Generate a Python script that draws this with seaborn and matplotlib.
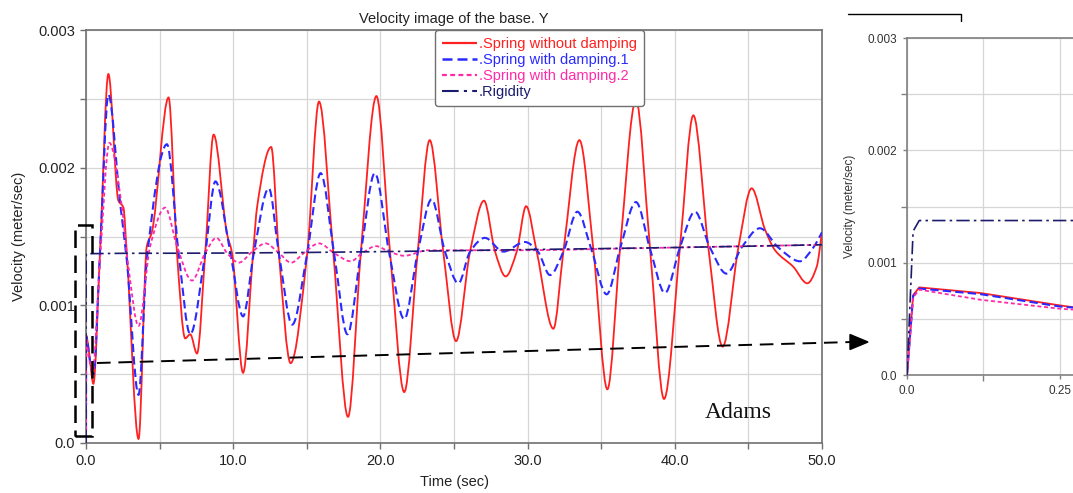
import numpy as np
import matplotlib
matplotlib.use("Agg")
import matplotlib.pyplot as plt
import seaborn as sns
from matplotlib.path import Path
from matplotlib.patches import PathPatch, Rectangle, Polygon
from matplotlib.lines import Line2D
from matplotlib.ticker import MultipleLocator, FuncFormatter

# ---------------------------------------------------------------------------
# Base velocity (Y) over time, m/s
# ---------------------------------------------------------------------------
t_free = [0, 0.01, 0.02, 0.12, 0.25, 0.50, 0.95, 1.52, 2.20, 2.54, 2.77, 3.57,
          4.13, 4.47, 5.61, 6.18, 6.74, 7.08, 7.54, 8.10, 8.67, 9.58, 9.92,
          10.67, 11.35, 11.63, 12.58, 13.10, 13.90, 15.03, 15.83, 16.80, 17.80,
          18.67, 19.73, 20.66, 21.62, 22.53, 23.35, 24.27, 25.14, 26.09, 27.04,
          27.79, 28.51, 29.26, 29.90, 30.62, 31.75, 32.43, 33.52, 34.47, 35.42,
          36.28, 37.36, 38.32, 39.27, 40.35, 41.26, 42.28, 43.25, 44.32, 45.22,
          46.13, 46.81, 48.05, 49.00, 49.64, 50.0]
v_free = [0, 0.00071, 0.00078, 0.00073, 0.00062, 0.00043, 0.00138, 0.00268,
          0.00176, 0.00171, 0.00138, 0.00003, 0.00143, 0.00153, 0.00251,
          0.00138, 0.00076, 0.00079, 0.00065, 0.00138, 0.00224, 0.00152,
          0.00138, 0.00051, 0.00138, 0.00172, 0.00215, 0.00138, 0.00058,
          0.00138, 0.00248, 0.00138, 0.00019, 0.00138, 0.00252, 0.00138,
          0.00037, 0.00138, 0.00220, 0.00139, 0.00074, 0.00139, 0.00176,
          0.00139, 0.00121, 0.00139, 0.00172, 0.00139, 0.00083, 0.00139,
          0.00220, 0.00140, 0.00039, 0.00141, 0.00249, 0.00141, 0.00032,
          0.00142, 0.00238, 0.00142, 0.00070, 0.00142, 0.00185, 0.00155,
          0.00140, 0.00128, 0.00116, 0.00128, 0.00153]

t_damp1 = [0, 0.01, 0.02, 0.12, 0.25, 0.50, 0.95, 1.52, 2.32, 2.77, 3.57, 4.13,
           5.50, 6.29, 7.08, 8.10, 8.79, 9.81, 10.67, 11.40, 12.42, 13.10,
           14.01, 15.03, 15.94, 16.85, 17.76, 18.67, 19.62, 20.60, 21.62, 22.53,
           23.48, 24.39, 25.30, 26.09, 27.10, 28.35, 29.82, 30.70, 31.52, 32.43,
           33.38, 34.35, 35.37, 36.28, 37.36, 38.32, 39.33, 40.35, 41.37, 42.39,
           43.52, 44.54, 45.78, 47.03, 48.50, 49.41, 50.0]
v_damp1 = [0, 0.00070, 0.00077, 0.00072, 0.00061, 0.00050, 0.00138, 0.00253,
           0.00174, 0.00133, 0.00035, 0.00133, 0.00217, 0.00138, 0.00079,
           0.00138, 0.00190, 0.00138, 0.00092, 0.00138, 0.00185, 0.00138,
           0.00086, 0.00138, 0.00196, 0.00138, 0.00079, 0.00138, 0.00196,
           0.00138, 0.00090, 0.00138, 0.00177, 0.00139, 0.00116, 0.00139,
           0.00149, 0.00139, 0.00146, 0.00139, 0.00122, 0.00139, 0.00168,
           0.00140, 0.00108, 0.00141, 0.00175, 0.00141, 0.00109, 0.00142,
           0.00168, 0.00142, 0.00123, 0.00142, 0.00156, 0.00142, 0.00132,
           0.00142, 0.00153]

t_damp2 = [0, 0.01, 0.02, 0.12, 0.25, 0.45, 0.95, 1.59, 2.43, 2.88, 3.57, 4.36,
           5.38, 6.18, 7.20, 8.10, 8.86, 9.58, 10.38, 11.30, 12.20, 13.10,
           13.94, 14.80, 15.83, 16.85, 17.98, 18.78, 19.69, 20.60, 21.62, 23.20,
           25.0, 30.0, 35.0, 40.0, 45.0, 50.0]
v_damp2 = [0, 0.00069, 0.00076, 0.00067, 0.00059, 0.00052, 0.00133, 0.00218,
           0.00172, 0.00128, 0.00085, 0.00143, 0.00171, 0.00143, 0.00118,
           0.00138, 0.00149, 0.00138, 0.00131, 0.00139, 0.00145, 0.00138,
           0.00131, 0.00138, 0.00145, 0.00138, 0.00132, 0.00138, 0.00143,
           0.00139, 0.00136, 0.00140, 0.00140, 0.00140, 0.00141, 0.00142,
           0.00143, 0.00144]

t_rigid = [0, 0.01, 0.02, 10.0, 20.0, 30.0, 40.0, 50.0]
v_rigid = [0, 0.00128, 0.001375, 0.00138, 0.00139, 0.001405, 0.00142, 0.00144]

labels = [".Spring without damping", ".Spring with damping.1",
          ".Spring with damping.2", ".Rigidity"]

colors = ["#ff2020", "#2a2aff", "#ff2aa8", "#1c1c6e"]
styles = [(0, ()), (0, (4, 2)), (0, (2.2, 1.5)), (0, (8, 2.5, 1.5, 2.5))]
widths = [1.3, 1.5, 1.3, 1.2]

series = [(t_free, v_free), (t_damp1, v_damp1), (t_damp2, v_damp2),
          (t_rigid, v_rigid)]

# ---------------------------------------------------------------------------
sns.set_theme(style="whitegrid")
plt.rcParams["font.family"] = ["Liberation Sans", "DejaVu Sans"]

W, H = 1073, 493
fig = plt.figure(figsize=(W / 100, H / 100), dpi=100)


def fx(px):
    return px / W


def fy(py):
    return 1 - py / H


def smooth_path(x, y):
    """Cubic Hermite (monotone) curve through the given points as a Bezier path."""
    x = np.asarray(x, float)
    y = np.asarray(y, float)
    h = np.diff(x)
    delta = np.diff(y) / h
    d = np.zeros_like(y)
    d[0], d[-1] = delta[0], delta[-1]
    for i in range(1, len(x) - 1):
        if delta[i - 1] * delta[i] <= 0:
            d[i] = 0.0
        else:
            w1 = 2 * h[i] + h[i - 1]
            w2 = h[i] + 2 * h[i - 1]
            d[i] = (w1 + w2) / (w1 / delta[i - 1] + w2 / delta[i])
    verts = [(x[0], y[0])]
    codes = [Path.MOVETO]
    for i in range(len(x) - 1):
        verts.append((x[i] + h[i] / 3, y[i] + d[i] * h[i] / 3))
        verts.append((x[i + 1] - h[i] / 3, y[i + 1] - d[i + 1] * h[i] / 3))
        verts.append((x[i + 1], y[i + 1]))
        codes += [Path.CURVE4] * 3
    return Path(verts, codes)


def style_axes(ax, spine_color="#707070"):
    for s in ax.spines.values():
        s.set_visible(True)
        s.set_color(spine_color)
        s.set_linewidth(1.2)
    ax.grid(True, which="both", color="#d6d6d6", linewidth=0.9)
    ax.set_axisbelow(True)
    ax.tick_params(which="both", direction="out", length=4, width=1,
                   color=spine_color, bottom=True, left=True)


# ---------------------------- main plot ------------------------------------
ax = fig.add_axes([fx(86), fy(443), (822 - 86) / W, (443 - 30) / H])
for (t, v), c, ls, lw in zip(series, colors, styles, widths):
    ax.add_patch(PathPatch(smooth_path(t, v), fill=False, edgecolor=c,
                           linestyle=ls, linewidth=lw, zorder=3))
ax.set_xlim(0, 50)
ax.set_ylim(0, 0.003)
style_axes(ax)
ax.xaxis.set_major_locator(MultipleLocator(10))
ax.xaxis.set_minor_locator(MultipleLocator(5))
ax.yaxis.set_major_locator(MultipleLocator(0.001))
ax.yaxis.set_minor_locator(MultipleLocator(0.0005))
ax.xaxis.set_major_formatter(FuncFormatter(lambda v, p: f"{v:.1f}"))
ax.yaxis.set_major_formatter(
    FuncFormatter(lambda v, p: "0.0" if abs(v) < 1e-12 else f"{v:.3f}"))
ax.tick_params(labelsize=10.5, labelcolor="#222222", pad=4)
ax.set_title("Velocity image of the base. Y", fontsize=10.5, pad=5,
             color="#222222")
ax.set_xlabel("Time (sec)", fontsize=10.5, labelpad=5, color="#222222")
ax.set_ylabel("Velocity (meter/sec)", fontsize=10.5, labelpad=9,
              color="#222222")

handles = [Line2D([], [], color=c, linestyle=ls, linewidth=lw + 0.3)
           for c, ls, lw in zip(colors, styles, widths)]
leg = ax.legend(handles, labels, loc="upper left",
                bbox_to_anchor=(fx(435), fy(30)), bbox_transform=fig.transFigure,
                borderaxespad=0, frameon=True, fancybox=True, framealpha=1,
                edgecolor="#707070", fontsize=10.5, handlelength=2.4,
                handletextpad=0.1, labelspacing=0.13, borderpad=0.5)
leg.get_frame().set_linewidth(1.0)
for txt, c in zip(leg.get_texts(), colors):
    txt.set_color(c)

ax.text(50 * (738 - 86) / 736, 0.000225, "Adams", ha="center", va="center",
        fontsize=17, family="Liberation Serif", color="#111111")

# ---------------------------- zoomed inset ---------------------------------
inset_w = 1080 - 907
ax2 = fig.add_axes([fx(907), fy(375), inset_w / W, (375 - 38) / H])
for (t, v), c, ls, lw in zip(series, colors, styles, widths):
    sns.lineplot(x=t, y=v, ax=ax2, color=c, linestyle=ls, linewidth=lw,
                 estimator=None, sort=False, legend=False, zorder=3)
ax2.set_xlim(0, inset_w / 610.7)
ax2.set_ylim(0, 0.003)
style_axes(ax2, "#808080")
ax2.xaxis.set_major_locator(MultipleLocator(0.25))
ax2.xaxis.set_minor_locator(MultipleLocator(0.125))
ax2.yaxis.set_major_locator(MultipleLocator(0.001))
ax2.yaxis.set_minor_locator(MultipleLocator(0.0005))
ax2.xaxis.set_major_formatter(
    FuncFormatter(lambda v, p: "0.0" if abs(v) < 1e-12 else f"{v:g}"))
ax2.yaxis.set_major_formatter(
    FuncFormatter(lambda v, p: "0.0" if abs(v) < 1e-12 else f"{v:.3f}"))
ax2.tick_params(labelsize=8.5, labelcolor="#333333", pad=4, length=3)
ax2.set_ylabel("Velocity (meter/sec)", fontsize=8.5, labelpad=8,
               color="#333333")
ax2.set_xlabel("")

# ---------------------------- annotations ----------------------------------
fig.add_artist(Rectangle((fx(75), fy(436)), (92 - 75) / W, (436 - 225) / H,
                         fill=False, edgecolor="black", linewidth=1.8,
                         linestyle=(0, (7, 3)), transform=fig.transFigure,
                         zorder=5))
fig.add_artist(Line2D([fx(97), fx(852)], [fy(363), fy(342)], color="black",
                      linewidth=1.4, linestyle=(0, (7, 4)),
                      transform=fig.transFigure, zorder=5))
fig.add_artist(Polygon([(fx(868), fy(342)), (fx(850), fy(334.5)),
                        (fx(850), fy(349.5))], closed=True, facecolor="black",
                       edgecolor="black", transform=fig.transFigure, zorder=5))
fig.add_artist(Line2D([fx(848), fx(961), fx(961)], [fy(14), fy(14), fy(21)],
                      color="black", linewidth=1.0, transform=fig.transFigure))

fig.savefig("out.png", dpi=100)
